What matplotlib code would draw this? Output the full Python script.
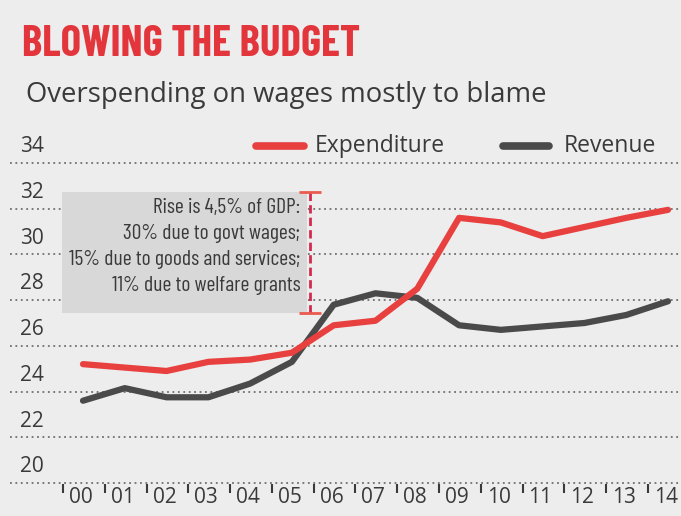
import matplotlib
matplotlib.use("Agg")
import matplotlib.pyplot as plt

years = list(range(0, 15))
year_labels = [f"{y:02d}" for y in years]
expenditure = [25.2, 25.05, 24.9, 25.3, 25.4, 25.7, 26.9, 27.1, 28.5, 31.6, 31.4, 30.8, 31.2, 31.6, 31.95]
revenue = [23.6, 24.15, 23.75, 23.75, 24.35, 25.3, 27.8, 28.3, 28.1, 26.9, 26.7, 26.85, 27.0, 27.35, 27.95]
y_ticks = [20, 22, 24, 26, 28, 30, 32, 34]
note_lines = [
    "Rise is 4,5% of GDP:",
    "30% due to govt wages;",
    "15% due to goods and services;",
    "11% due to welfare grants",
]

BG = "#ededed"
RED = "#e8403f"
DARK = "#4a4a4a"
TEXT = "#3a3a3a"
COND = ["Barlow Condensed", "DejaVu Sans"]
BODY = ["Open Sans", "DejaVu Sans"]

W, H = 681, 516
fig = plt.figure(figsize=(W / 100, H / 100), dpi=100, facecolor=BG)

# axes in pixel terms: x 10..681, y 130..505 (top..bottom)
ax = fig.add_axes([10 / W, (H - 505) / H, 671 / W, 375 / H])
ax.set_facecolor(BG)
px_per_year = (668 - 83) / 14
px_per_unit = (483 - 163) / 14
ax.set_xlim(-(83 - 10) / px_per_year, 14 + (681 - 668) / px_per_year)
ax.set_ylim(20 - (505 - 483) / px_per_unit, 20 + (483 - 130) / px_per_unit)
for s in ax.spines.values():
    s.set_visible(False)
ax.set_xticks([])
ax.set_yticks([])

# dotted gridlines with labels sitting above them
for v in y_ticks:
    ax.axhline(v, color="#6f6f6f", lw=1.3, ls=(0, (1, 2)), zorder=1)
    ax.text(-1.5, v + 0.25, str(v), fontsize=15, color=TEXT, family=BODY,
            ha="left", va="bottom", zorder=3)

# annotation box and rise bar
ax.add_patch(plt.Rectangle((-0.5, 27.45), 5.86, 5.3, facecolor="#d8d8d8",
                           edgecolor="none", zorder=2))
ax.vlines(5.43, 27.45, 32.75, color="#d42a4f", lw=2, ls=(0, (3, 1.5)), zorder=4)
ax.hlines([27.45, 32.75], 5.17, 5.7, color="#ea5a4e", lw=2, zorder=4)
for i, line in enumerate(note_lines):
    ax.text(5.2, 32.05 - i * 1.13, line, fontsize=15.5, color=TEXT, family=COND,
            ha="right", va="center", zorder=5)

ax.plot(years, revenue, color=DARK, lw=4.5, solid_capstyle="round",
        solid_joinstyle="round", zorder=6)
ax.plot(years, expenditure, color=RED, lw=4.5, solid_capstyle="round",
        solid_joinstyle="round", zorder=7)

# x labels and ticks between years
for y, lab in zip(years, year_labels):
    ax.text(y - 0.05, 19.35, lab, fontsize=15, color=TEXT, family=BODY,
            ha="center", va="center", zorder=3)
    ax.vlines(y - 0.48, 19.55, 19.95, color=TEXT, lw=1.5, zorder=3)

# legend
ax.plot([4.15, 5.3], [34.74, 34.74], color=RED, lw=5.5, solid_capstyle="round")
ax.text(5.55, 34.74, "Expenditure", fontsize=16.5, color=TEXT, family=BODY,
        ha="left", va="center")
ax.plot([10.05, 11.15], [34.74, 34.74], color=DARK, lw=5.5, solid_capstyle="round")
ax.text(11.5, 34.74, "Revenue", fontsize=16.5, color=TEXT, family=BODY,
        ha="left", va="center")

fig.text(22 / W, 1 - 44 / H, "BLOWING THE BUDGET", fontsize=31, color="#e2363c",
         family=COND, fontweight="bold", ha="left", va="center")
fig.text(26 / W, 1 - 95 / H, "Overspending on wages mostly to blame", fontsize=19.8,
         color=TEXT, family=BODY, ha="left", va="center")

fig.savefig("out.png", dpi=100, facecolor=BG)
